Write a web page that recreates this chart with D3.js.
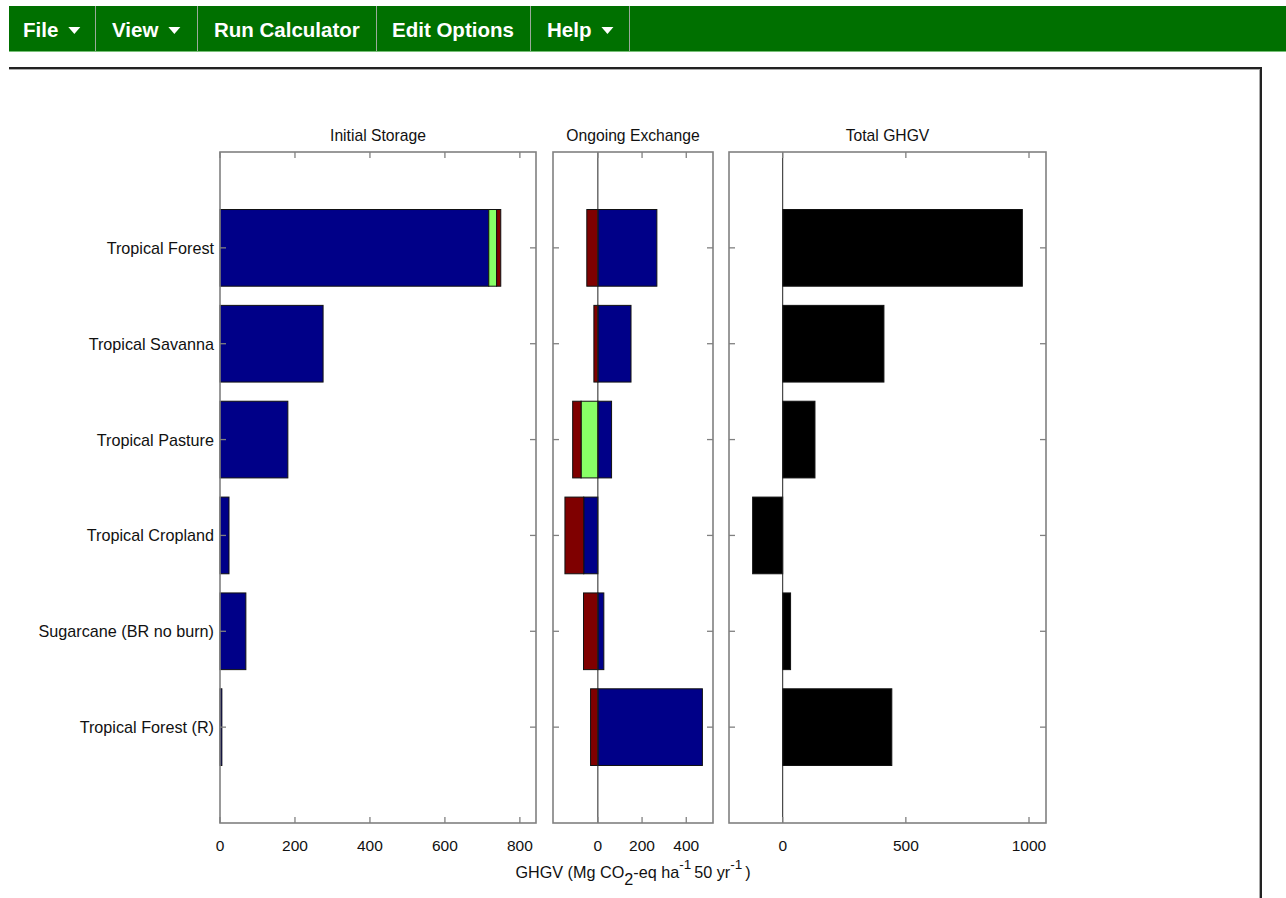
<!DOCTYPE html>
<html>
<head>
<meta charset="utf-8">
<script src="https://cdn.jsdelivr.net/npm/d3@7"></script>
<style>
  html, body { margin: 0; padding: 0; background: #fff; }
  svg { display: block; }
</style>
</head>
<body>
<svg id="chart" width="1286" height="898"></svg>
<script>
// Ecosystem categories, top to bottom
const categories = [
  "Tropical Forest",
  "Tropical Savanna",
  "Tropical Pasture",
  "Tropical Cropland",
  "Sugarcane (BR no burn)",
  "Tropical Forest (R)"
];

// Initial storage components (Mg CO2-eq ha-1 50 yr-1)
const storageBlue  = [717, 275, 181, 24, 69, 5];
const storageGreen = [21, 0, 0, 0, 0, 0];
const storageRed   = [11, 0, 0, 0, 0, 0];

// Ongoing exchange components
const exchangeBlue  = [267, 150, 62, -64, 27, 473];
const exchangeGreen = [0, 0, -76, 0, 0, 0];
const exchangeRed   = [-50, -18, -38, -85, -65, -33];

// Total GHGV
const totalGHGV = [973, 411, 131, -122, 32, 443];

// Axis ticks
const storageTicks  = [0, 200, 400, 600, 800];
const exchangeTicks = [0, 200, 400];
const totalTicks    = [0, 500, 1000];

// Menu items
const menuItems = ["File", "View", "Run Calculator", "Edit Options", "Help"];
const menuHasArrow = [true, true, false, false, true];

const colors = { blue: "#000088", green: "#88ff66", red: "#7f0000", total: "#000000" };

const svg = d3.select("#chart");

// ---------- menu bar ----------
const menu = svg.append("g");
menu.append("rect").attr("x", 9).attr("y", 6).attr("width", 1277).attr("height", 46).attr("fill", "#007000");
menu.append("line").attr("x1", 9).attr("x2", 1286).attr("y1", 51.5).attr("y2", 51.5).attr("stroke", "#77c077");
const menuX = [23, 112, 214, 392, 547];
const sepX = [95.5, 197.5, 376.5, 530.5, 629.5];
sepX.forEach(x => menu.append("line").attr("x1", x).attr("x2", x).attr("y1", 6).attr("y2", 51)
  .attr("stroke", "#9aaa9a").attr("stroke-width", 1));
menuItems.forEach((t, i) => {
  const txt = menu.append("text").attr("x", menuX[i]).attr("y", 37)
    .attr("fill", "#fff").attr("font-family", "'Liberation Sans', Arial, sans-serif")
    .attr("font-weight", "bold").attr("font-size", 20.5).text(t);
  if (menuHasArrow[i]) {
    const w = txt.node().getComputedTextLength();
    const ax = menuX[i] + w + 10;
    menu.append("path").attr("d", `M${ax},27 L${ax + 12},27 L${ax + 6},34 Z`).attr("fill", "#fff");
  }
});

// ---------- content frame ----------
svg.append("line").attr("x1", 9).attr("x2", 1262).attr("y1", 68).attr("y2", 68).attr("stroke", "#222").attr("stroke-width", 2);
svg.append("line").attr("x1", 9).attr("x2", 1262).attr("y1", 69.5).attr("y2", 69.5).attr("stroke", "#aaa").attr("stroke-width", 1);
svg.append("line").attr("x1", 1261).attr("x2", 1261).attr("y1", 67).attr("y2", 898).attr("stroke", "#222").attr("stroke-width", 2);
svg.append("line").attr("x1", 1259.5).attr("x2", 1259.5).attr("y1", 69).attr("y2", 898).attr("stroke", "#aaa").attr("stroke-width", 1);

// ---------- panels ----------
const plotTop = 152, plotBottom = 823;
const y = d3.scaleLinear().domain([0, categories.length + 1]).range([plotTop, plotBottom]);
const barH = y(0.8) - y(0);
const font = "'Liberation Sans', Arial, sans-serif";
const frameColor = "#808080";
const tickLen = 6;

const panels = [
  { title: "Initial Storage", x0: 220, x1: 536, domain: [0, 843], ticks: storageTicks,
    series: [["blue", storageBlue], ["green", storageGreen], ["red", storageRed]], zero: false, labels: true },
  { title: "Ongoing Exchange", x0: 553, x1: 713, domain: [-203, 521], ticks: exchangeTicks,
    series: [["blue", exchangeBlue], ["green", exchangeGreen], ["red", exchangeRed]], zero: true },
  { title: "Total GHGV", x0: 729, x1: 1046, domain: [-218, 1069], ticks: totalTicks,
    series: [["total", totalGHGV]], zero: true }
];

panels.forEach(p => {
  const g = svg.append("g");
  const x = d3.scaleLinear().domain(p.domain).range([p.x0, p.x1]);

  // stacked bars (negatives stack leftward from zero)
  const rows = categories.map((c, i) => {
    const r = { cat: c, idx: i };
    p.series.forEach(([k, arr]) => r[k] = arr[i]);
    return r;
  });
  const keys = p.series.map(s => s[0]);
  const stacked = d3.stack().keys(keys).offset(d3.stackOffsetDiverging)(rows);
  stacked.forEach(layer => {
    g.selectAll(null).data(layer.filter(d => d[1] !== d[0])).join("rect")
      .attr("x", d => x(Math.min(d[0], d[1])))
      .attr("width", d => Math.abs(x(d[1]) - x(d[0])))
      .attr("y", d => y(d.data.idx + 1) - barH / 2)
      .attr("height", barH)
      .attr("fill", colors[layer.key])
      .attr("stroke", "#111").attr("stroke-width", 1);
  });

  // zero reference line
  if (p.zero) {
    g.append("line").attr("x1", x(0)).attr("x2", x(0)).attr("y1", plotTop).attr("y2", plotBottom)
      .attr("stroke", "#222").attr("stroke-width", 1);
  }

  // frame
  g.append("rect").attr("x", p.x0).attr("y", plotTop).attr("width", p.x1 - p.x0).attr("height", plotBottom - plotTop)
    .attr("fill", "none").attr("stroke", frameColor).attr("stroke-width", 1.6);

  // inward ticks, top & bottom
  p.ticks.forEach(t => {
    const tx = x(t);
    g.append("line").attr("x1", tx).attr("x2", tx).attr("y1", plotTop).attr("y2", plotTop + tickLen).attr("stroke", frameColor).attr("stroke-width", 1.3);
    g.append("line").attr("x1", tx).attr("x2", tx).attr("y1", plotBottom).attr("y2", plotBottom - tickLen).attr("stroke", frameColor).attr("stroke-width", 1.3);
    g.append("text").attr("x", tx).attr("y", 851).attr("text-anchor", "middle")
      .attr("font-family", font).attr("font-size", 15.5).attr("fill", "#111").text(d3.format("d")(t));
  });

  // inward ticks, left & right at each category
  categories.forEach((c, i) => {
    const ty = y(i + 1);
    g.append("line").attr("x1", p.x0).attr("x2", p.x0 + tickLen).attr("y1", ty).attr("y2", ty).attr("stroke", frameColor).attr("stroke-width", 1.3);
    g.append("line").attr("x1", p.x1).attr("x2", p.x1 - tickLen).attr("y1", ty).attr("y2", ty).attr("stroke", frameColor).attr("stroke-width", 1.3);
    if (p.labels) {
      g.append("text").attr("x", p.x0 - 6).attr("y", ty + 6).attr("text-anchor", "end")
        .attr("font-family", font).attr("font-size", 16.2).attr("fill", "#111").text(c);
    }
  });

  // panel title
  g.append("text").attr("x", (p.x0 + p.x1) / 2).attr("y", 141).attr("text-anchor", "middle")
    .attr("font-family", font).attr("font-size", 15.7).attr("fill", "#111").text(p.title);
});

// ---------- x-axis label ----------
const xl = svg.append("text").attr("x", 633).attr("y", 878).attr("text-anchor", "middle")
  .attr("font-family", font).attr("font-size", 16.2).attr("fill", "#111");
xl.append("tspan").text("GHGV (Mg CO");
xl.append("tspan").attr("dy", 7).text("2");
xl.append("tspan").attr("dy", -7).text("-eq ha");
xl.append("tspan").attr("dy", -9).attr("font-size", 13.5).text("-1");
xl.append("tspan").attr("dx", 3).attr("dy", 9).text("50 yr");
xl.append("tspan").attr("dy", -9).attr("font-size", 13.5).text("-1");
xl.append("tspan").attr("dx", 3).attr("dy", 9).text(")");
</script>
</body>
</html>
